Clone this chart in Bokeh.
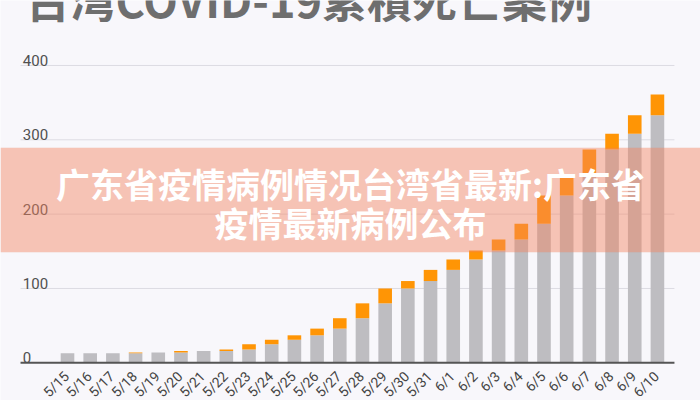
import math
from bokeh.plotting import figure
from bokeh.models import ColumnDataSource, Label, BoxAnnotation
from bokeh.core.properties import value
from bokeh.embed import file_html
from bokeh.resources import INLINE

# ---- data ----
dates = ["5/15", "5/16", "5/17", "5/18", "5/19", "5/20", "5/21", "5/22", "5/23",
         "5/24", "5/25", "5/26", "5/27", "5/28", "5/29", "5/30", "5/31", "6/1",
         "6/2", "6/3", "6/4", "6/5", "6/6", "6/7", "6/8", "6/9", "6/10"]
previous = [13, 13, 13, 13, 14, 14, 16, 16, 18, 25, 31, 37, 46, 60, 80, 100, 110,
            125, 139, 151, 166, 187, 225, 254, 287, 308, 333]
new_cases = [0, 0, 0, 1, 0, 2, 0, 2, 7, 6, 6, 9, 14, 20, 20, 10, 15, 14, 12, 15,
             21, 38, 29, 33, 21, 25, 28]
y_ticks = [0, 100, 200, 300, 400]
title_text = "台湾COVID-19累積死亡案例"
overlay_line1 = "广东省疫情病例情况台湾省最新:广东省"
overlay_line2 = "疫情最新病例公布"

GRAY = "#bebdc1"
ORANGE = "#ff9505"
BG = "#f8f7fb"

xs = list(range(len(dates)))
source = ColumnDataSource(dict(x=xs, previous=previous, new=new_cases, label=dates,
                               zero=[0] * len(dates)))

X_LO, X_HI = -2.07, 26.75

p = figure(width=700, height=400, output_backend="svg", toolbar_location=None,
           x_range=(-2.953, 27.898), y_range=(-50.7, 487.4),
           x_axis_location=None, y_axis_location=None,
           min_border_left=0, min_border_right=0, min_border_top=0, min_border_bottom=0)
p.background_fill_color = BG
p.border_fill_color = BG
p.outline_line_color = None
p.xgrid.visible = False
p.ygrid.visible = False

# grid lines
grid_y = [t for t in y_ticks if t > 0]
p.segment(x0=[X_LO] * len(grid_y), x1=[X_HI] * len(grid_y), y0=grid_y, y1=grid_y,
          line_color="#dddce3", line_width=1)

# stacked bars
p.vbar_stack(["previous", "new"], x="x", width=0.6, color=[GRAY, ORANGE],
             line_color=None, source=source)

# x axis line
p.segment(x0=[X_LO], x1=[X_HI], y0=[0], y1=[0], line_color="#555555", line_width=2)

# x tick labels (rotated)
p.text(x="x", y="zero", text="label", source=source, angle=math.pi / 4,
       text_align="right", text_baseline="middle", x_offset=-1, y_offset=11,
       text_font=value("Roboto"), text_font_size="14px", text_color="#444444")

# y tick labels above grid lines
p.text(x=[X_LO + 0.1] * len(y_ticks), y=y_ticks, text=[str(t) for t in y_ticks],
       text_baseline="alphabetic", text_align="left", y_offset=-5,
       text_font=value("Roboto"), text_font_size="15px", text_color="#505050")

# title (partially cut at top, as in the reference)
p.add_layout(Label(x=-1.85, y=489.5, text=title_text, text_font="Noto Sans CJK SC",
                   text_font_style="bold", text_font_size="45px", text_color="#6e6e6e",
                   text_baseline="alphabetic"))

# translucent overlay band
p.add_layout(BoxAnnotation(bottom=148.8, top=289.3, fill_color="#f5825f",
                           fill_alpha=0.45, line_color=None))

p.add_layout(Label(x=12.47, y=241.2, text=overlay_line1, text_font="Noto Sans CJK SC",
                   text_font_style="bold", text_font_size="34px", text_color="white",
                   text_align="center", text_baseline="middle"))
p.add_layout(Label(x=12.47, y=188.8, text=overlay_line2, text_font="Noto Sans CJK SC",
                   text_font_style="bold", text_font_size="34px", text_color="white",
                   text_align="center", text_baseline="middle"))

open("out.html", "w").write(file_html(p, INLINE))
